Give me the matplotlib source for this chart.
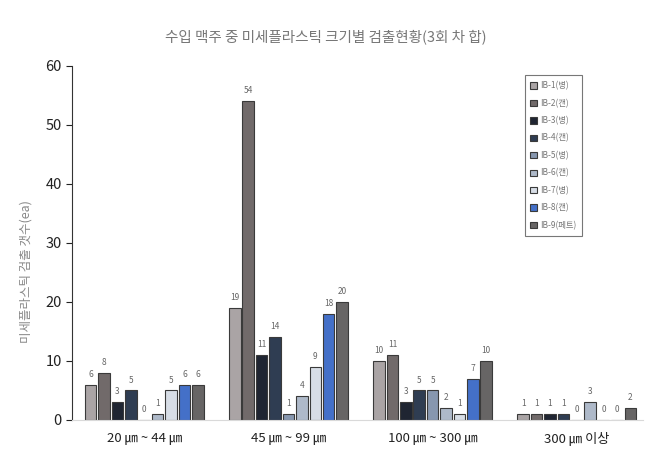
import numpy as np
import matplotlib.pyplot as plt

plt.rcParams['font.family'] = ['Noto Sans CJK KR', 'DejaVu Sans']

# 데이터
categories = ["20 ㎛ ~ 44 ㎛", "45 ㎛ ~ 99 ㎛", "100 ㎛ ~ 300 ㎛", "300 ㎛ 이상"]
series_names = ["IB-1(병)", "IB-2(캔)", "IB-3(병)", "IB-4(캔)", "IB-5(병)",
                "IB-6(캔)", "IB-7(병)", "IB-8(캔)", "IB-9(페트)"]
ib1 = [6, 19, 10, 1]
ib2 = [8, 54, 11, 1]
ib3 = [3, 11, 3, 1]
ib4 = [5, 14, 5, 1]
ib5 = [0, 1, 5, 0]
ib6 = [1, 4, 2, 3]
ib7 = [5, 9, 1, 0]
ib8 = [6, 18, 7, 0]
ib9 = [6, 20, 10, 2]
series_values = [ib1, ib2, ib3, ib4, ib5, ib6, ib7, ib8, ib9]

colors = ["#aaa4a5", "#716a6a", "#1f2532", "#2f3d52", "#8797af",
          "#aeb9c9", "#d7dde6", "#4470c8", "#676565"]

fig = plt.figure(figsize=(6.45, 4.58), dpi=100)
ax = fig.add_axes([0.112, 0.083, 0.885, 0.773])

x = np.arange(len(categories))
pitch = 0.093
width = 0.08
for i, (name, vals) in enumerate(zip(series_names, series_values)):
    pos = x + (i - 4) * pitch
    bars = ax.bar(pos, vals, width, color=colors[i], edgecolor="#3a3a3a",
                  linewidth=0.8, label=name)
    for b, v in zip(bars, vals):
        ax.text(b.get_x() + b.get_width() / 2, v + 1.0, str(v),
                ha="center", va="bottom", fontsize=6, color="#666666")

ax.set_ylim(0, 60)
ax.set_xlim(-0.5, 3.46)
ax.set_yticks(range(0, 61, 10))
ax.tick_params(axis="y", labelsize=10.5, colors="#222222", length=4)
ax.tick_params(axis="x", length=0, labelsize=9.5, pad=8)
ax.set_xticks(x)
ax.set_xticklabels(categories, color="#222222")

ax.spines["top"].set_visible(False)
ax.spines["right"].set_visible(False)
ax.spines["left"].set_color("#333333")
ax.spines["bottom"].set_color("#d9d9d9")

ax.set_ylabel("미세플라스틱 검출 갯수(ea)", fontsize=9, color="#888888")
ax.yaxis.set_label_coords(-0.07, 0.42)
fig.text(0.505, 0.919, "수입 맥주 중 미세플라스틱 크기별 검출현황(3회 차 합)",
         ha="center", va="center", fontsize=10.5, color="#777777")

leg = ax.legend(loc="upper left", bbox_to_anchor=(0.785, 0.985), fontsize=6,
                frameon=True, fancybox=False, edgecolor="#555555",
                handlelength=0.8, handleheight=0.8, handletextpad=0.4,
                labelspacing=1.0, borderpad=0.7, labelcolor="#777777")
leg.get_frame().set_linewidth(0.8)

plt.savefig("out.png", dpi=100)
